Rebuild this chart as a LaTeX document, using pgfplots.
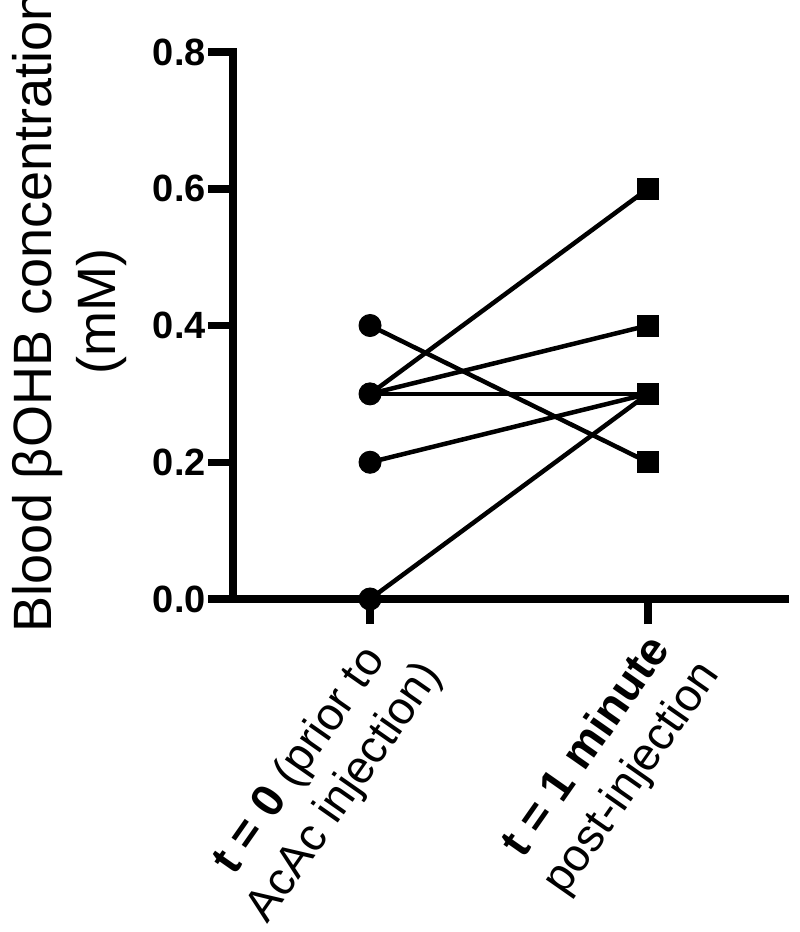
\documentclass[border=0pt]{standalone}
\usepackage{pgfplots}
\pgfplotsset{compat=1.18}
\usepackage{fontspec}
\setmainfont{Liberation Sans}
\begin{document}
\begin{tikzpicture}
\useasboundingbox (-233pt,-333pt) rectangle (567pt,599pt);
\begin{axis}[
  at={(0pt,0pt)}, anchor=south west,
  scale only axis, width=552pt, height=547pt,
  xmin=-0.493, xmax=1.493, ymin=0, ymax=0.8,
  axis x line=bottom, axis y line=left,
  axis line style={-, line width=7.5pt, line cap=rect},
  xtick={0,1}, ytick={0,0.2,0.4,0.6,0.8},
  yticklabels={0.0,0.2,0.4,0.6,0.8},
  xticklabels={{\textbf{t = 0} (prior to\\AcAc injection)},{\textbf{t = 1 minute}\\post-injection}},
  tick align=outside, major tick length=25pt,
  tick style={line width=7.5pt, black},
  yticklabel style={font=\bfseries\fontsize{38}{44}\selectfont, inner sep=2pt},
  xticklabel style={font=\fontsize{46}{55}\selectfont, align=center, rotate=55, anchor=north east, inner sep=0pt},
  ylabel={Blood βOHB concentration\\(mM)},
  ylabel style={font=\fontsize{54}{64}\selectfont, align=center, at={(axis description cs:-0.297,0.525)}, anchor=center, inner sep=0pt},
  clip=false,
]
\addplot[black, line width=4.5pt] coordinates {(0,0.4) (1,0.2)};
\addplot[black, line width=4.5pt] coordinates {(0,0.3) (1,0.6)};
\addplot[black, line width=4.5pt] coordinates {(0,0.3) (1,0.4)};
\addplot[black, line width=4.5pt] coordinates {(0,0.3) (1,0.3)};
\addplot[black, line width=4.5pt] coordinates {(0,0.2) (1,0.3)};
\addplot[black, line width=4.5pt] coordinates {(0,0.0) (1,0.3)};
\addplot[only marks, mark=*, mark size=11pt, black, line width=1pt] coordinates {(0,0.4) (0,0.3) (0,0.2) (0,0.0)};
\addplot[only marks, mark=square*, mark size=10.5pt, black, line width=1pt] coordinates {(1,0.6) (1,0.4) (1,0.3) (1,0.2)};
\end{axis}
\end{tikzpicture}
\end{document}
